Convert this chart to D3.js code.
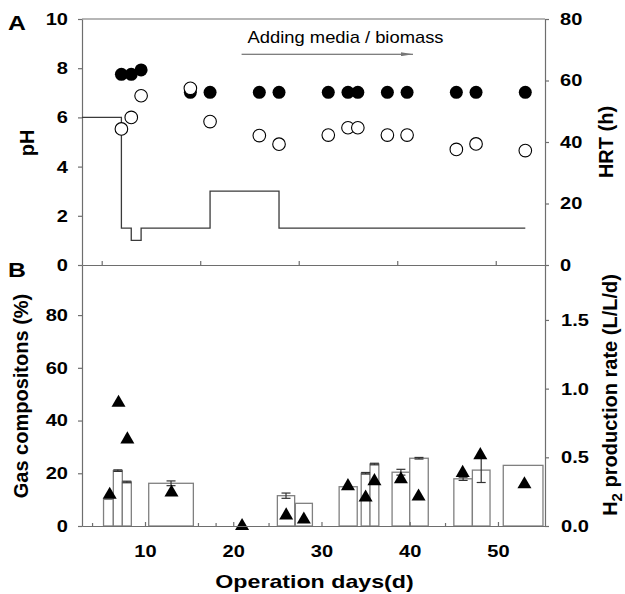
<!DOCTYPE html>
<html>
<head>
<meta charset="utf-8">
<script src="https://cdn.jsdelivr.net/npm/d3@7"></script>
<style>
  body { margin: 0; background: #fff; }
  svg text { font-family: Arial, "Liberation Sans", sans-serif; }
</style>
</head>
<body>
<svg id="chart" width="625" height="594"></svg>
<script>
// panel A: pH (filled = influent, open = effluent) and HRT step line
const phDays = [12, 13, 14, 19, 21, 26, 28, 33, 35, 36, 39, 41, 46, 48, 53];
const phIn   = [7.75, 7.75, 7.93, 7.02, 7.02, 7.02, 7.02, 7.02, 7.02, 7.02, 7.02, 7.02, 7.02, 7.02, 7.02];
const phOut  = [5.53, 6.0, 6.88, 7.18, 5.83, 5.26, 4.91, 5.28, 5.58, 5.58, 5.28, 5.28, 4.70, 4.92, 4.65];
const hrtDays = [8, 12, 13, 14, 21, 28, 53];
const hrtVals = [48, 12, 8, 12, 24, 12, 12];

// panel B: gas composition bars (%) and H2 production rate (L/L/d)
const barStart = [5.3, 6.41, 7.43, 10.42, 25.0, 27.04, 32.0, 34.5, 35.5, 38.0, 40.0, 45.0, 47.1, 50.6];
const barEnd   = [6.41, 7.43, 8.45, 15.48, 26.96, 28.97, 34.05, 35.5, 36.5, 40.0, 42.1, 47.1, 49.1, 55.1];
const barVals  = [10.1, 21.0, 16.7, 16.2, 11.5, 8.6, 14.9, 20.0, 23.5, 20.4, 25.7, 17.9, 21.2, 23.0];
const barErr   = [0, 0.3, 0.3, 0.9, 1.0, 0, 0, 0.3, 0.3, 1.1, 0.3, 0.6, 4.7, 0];
const rateDays = [6, 7, 8, 13, 21, 26, 28, 33, 35, 36, 39, 41, 46, 48, 53];
const rateVals = [0.227, 0.897, 0.63, 0.244, 0.0, 0.077, 0.047, 0.29, 0.207, 0.327, 0.34, 0.215, 0.387, 0.516, 0.304];

const phTicks = [0, 2, 4, 6, 8, 10];
const hrtTicks = [0, 20, 40, 60, 80];
const gasTicks = [0, 20, 40, 60, 80];
const rateTicks = [0, 0.5, 1.0, 1.5];
const dayTicks = [10, 20, 30, 40, 50];
const minorDayTicks = [4, 16, 18, 24, 44];
const arrowDays = [24.2, 41.6];

const L = 82, R = 545, topY = 19, midY = 265, botY = 526;
const axisColor = "#6e6e6e";

const svg = d3.select("#chart");

const xTop = d3.scaleLinear().domain([8, 55]).range([L, R]);
const xBot = d3.scaleLinear().domain([2.86, 55.33]).range([L, R]);
const yPH = d3.scaleLinear().domain([0, 10]).range([midY, topY]);
const yHRT = d3.scaleLinear().domain([0, 80]).range([midY, topY]);
const yGas = d3.scaleLinear().domain([0, 99]).range([botY, midY]);
const yRate = d3.scaleLinear().domain([0, 1.9]).range([botY, midY]);

// the original figure is a little wider than tall, so horizontal text looks stretched
function stretch(sel, k) {
  sel.each(function() {
    const w = this.getComputedTextLength();
    if (w > 0) d3.select(this).attr("textLength", w * k).attr("lengthAdjust", "spacingAndGlyphs");
  });
}

function styleAxis(g) {
  g.selectAll("path, line").attr("stroke", axisColor).attr("stroke-width", 1.2);
  g.selectAll("text")
    .attr("fill", "#000")
    .attr("font-size", 17)
    .attr("font-weight", "bold")
    .attr("font-family", "Arial, 'Liberation Sans', sans-serif");
  stretch(g.selectAll("text"), 1.18);
}

// ---- panel A ----
svg.append("line")
  .attr("x1", L).attr("x2", R).attr("y1", topY).attr("y2", topY)
  .attr("stroke", axisColor).attr("stroke-width", 1.2);

svg.append("g").attr("transform", `translate(${L},0)`)
  .call(d3.axisLeft(yPH).tickValues(phTicks).tickSize(4).tickSizeOuter(0).tickPadding(10))
  .call(styleAxis);

svg.append("g").attr("transform", `translate(${R},0)`)
  .call(d3.axisRight(yHRT).tickValues(hrtTicks).tickSize(4).tickSizeOuter(0).tickPadding(11))
  .call(styleAxis);

svg.append("g").attr("transform", `translate(0,${midY})`)
  .call(d3.axisBottom(xTop).tickValues(dayTicks).tickSize(-4).tickSizeOuter(0).tickFormat(""))
  .call(styleAxis);

const hrtLine = d3.line()
  .x((d, i) => xTop(hrtDays[i]))
  .y(d => yHRT(d))
  .curve(d3.curveStepAfter);

svg.append("path")
  .datum(hrtVals)
  .attr("d", hrtLine)
  .attr("fill", "none")
  .attr("stroke", "#3a3a3a")
  .attr("stroke-width", 1.3);

svg.append("g").selectAll("circle")
  .data(phIn)
  .join("circle")
  .attr("cx", (d, i) => xTop(phDays[i]))
  .attr("cy", d => yPH(d))
  .attr("r", 6.5)
  .attr("fill", "#000");

svg.append("g").selectAll("circle")
  .data(phOut)
  .join("circle")
  .attr("cx", (d, i) => xTop(phDays[i]))
  .attr("cy", d => yPH(d))
  .attr("r", 6.3)
  .attr("fill", "#fff")
  .attr("stroke", "#000")
  .attr("stroke-width", 1.1);

// annotation arrow
svg.append("defs").append("marker")
  .attr("id", "arrowhead")
  .attr("viewBox", "0 0 12 4")
  .attr("refX", 12).attr("refY", 2)
  .attr("markerWidth", 12).attr("markerHeight", 4)
  .attr("markerUnits", "userSpaceOnUse")
  .attr("orient", "auto")
  .append("path")
  .attr("d", "M0,0 L12,2 L0,4 Z")
  .attr("fill", "#777");

svg.append("line")
  .attr("x1", xTop(arrowDays[0])).attr("x2", xTop(arrowDays[1]))
  .attr("y1", yPH(8.57)).attr("y2", yPH(8.57))
  .attr("stroke", "#555").attr("stroke-width", 1.1)
  .attr("marker-end", "url(#arrowhead)");

svg.append("text")
  .attr("x", xTop(arrowDays[0]) + 6)
  .attr("y", yPH(9.02))
  .attr("font-size", 17)
  .attr("fill", "#000")
  .text("Adding media / biomass")
  .call(stretch, 1.08);

// ---- panel B ----
svg.append("g").attr("transform", `translate(${L},0)`)
  .call(d3.axisLeft(yGas).tickValues(gasTicks).tickSize(4).tickSizeOuter(0).tickPadding(10))
  .call(styleAxis);

svg.append("g").attr("transform", `translate(${R},0)`)
  .call(d3.axisRight(yRate).tickValues(rateTicks).tickFormat(d3.format(".1f"))
    .tickSize(4).tickSizeOuter(0).tickPadding(12))
  .call(styleAxis);

svg.append("g").selectAll("rect")
  .data(barVals)
  .join("rect")
  .attr("x", (d, i) => xBot(barStart[i]))
  .attr("width", (d, i) => xBot(barEnd[i]) - xBot(barStart[i]))
  .attr("y", d => yGas(d))
  .attr("height", d => botY - yGas(d))
  .attr("fill", "#fff")
  .attr("stroke", "#808080")
  .attr("stroke-width", 1.3);

const errG = svg.append("g").attr("stroke", "#333").attr("stroke-width", 1.2);
barVals.forEach((v, i) => {
  if (!barErr[i]) return;
  const cx = (xBot(barStart[i]) + xBot(barEnd[i])) / 2;
  const y1 = yGas(v + barErr[i]), y2 = yGas(v - barErr[i]);
  errG.append("line").attr("x1", cx).attr("x2", cx).attr("y1", y1).attr("y2", y2);
  errG.append("line").attr("x1", cx - 4.5).attr("x2", cx + 4.5).attr("y1", y1).attr("y2", y1);
  errG.append("line").attr("x1", cx - 4.5).attr("x2", cx + 4.5).attr("y1", y2).attr("y2", y2);
});

svg.append("g").selectAll("path")
  .data(rateVals)
  .join("path")
  .attr("d", d3.symbol().type(d3.symbolTriangle).size(85))
  .attr("transform", (d, i) => `translate(${xBot(rateDays[i])},${yRate(d)})`)
  .attr("fill", "#000");

svg.append("g").attr("transform", `translate(0,${botY})`)
  .call(d3.axisBottom(xBot).tickValues(dayTicks).tickSize(-4).tickSizeOuter(0).tickPadding(19))
  .call(styleAxis);

svg.append("g").attr("transform", `translate(0,${botY})`)
  .call(d3.axisBottom(xBot).tickValues(minorDayTicks).tickSize(-3).tickSizeOuter(0).tickFormat(""))
  .call(styleAxis);

// ---- labels ----
function boldText(x, y, size, str, rotate) {
  const t = svg.append("text")
    .attr("font-size", size)
    .attr("font-weight", "bold")
    .attr("fill", "#000")
    .attr("text-anchor", rotate ? "middle" : "start");
  if (rotate) t.attr("transform", `translate(${x},${y}) rotate(-90)`);
  else t.attr("x", x).attr("y", y);
  t.text(str);
  return t;
}

boldText(8, 30, 21, "A", false).call(stretch, 1.18);
boldText(8, 277, 21, "B", false).call(stretch, 1.18);
boldText(34, 143, 20, "pH", true);
boldText(613, 142, 20, "HRT (h)", true);
boldText(28, 396, 20, "Gas compositons (%)", true);

const h2 = svg.append("text")
  .attr("transform", "translate(617,395) rotate(-90)")
  .attr("text-anchor", "middle")
  .attr("font-size", 20)
  .attr("font-weight", "bold")
  .attr("fill", "#000");
h2.append("tspan").text("H");
h2.append("tspan").attr("font-size", 15).attr("dy", 5).text("2");
h2.append("tspan").attr("dy", -5).text(" production rate (L/L/d)");

svg.append("text")
  .attr("x", (L + R) / 2 + 1)
  .attr("y", 588)
  .attr("text-anchor", "middle")
  .attr("font-size", 19)
  .attr("font-weight", "bold")
  .attr("fill", "#000")
  .text("Operation days(d)")
  .call(stretch, 1.22);
</script>
</body>
</html>
